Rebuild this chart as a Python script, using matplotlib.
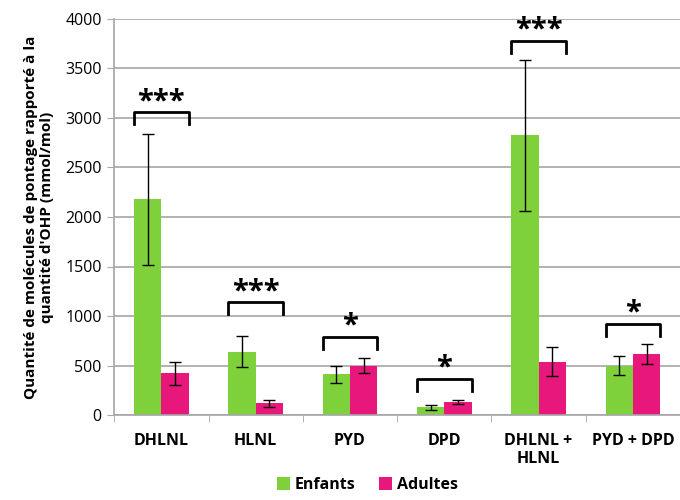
import numpy as np
import matplotlib
matplotlib.use("Agg")
import matplotlib.pyplot as plt

plt.rcParams['font.family'] = ['Open Sans', 'DejaVu Sans']

categories = ['DHLNL', 'HLNL', 'PYD', 'DPD', 'DHLNL +\nHLNL', 'PYD + DPD']
enfants = [2180, 640, 410, 80, 2825, 500]
enfants_err = [660, 155, 85, 25, 760, 95]
adultes = [420, 120, 500, 130, 540, 620]
adultes_err = [115, 35, 80, 20, 145, 100]
signif = ['***', '***', '*', '*', '***', '*']
bracket_top = [3060, 1140, 790, 365, 3780, 920]

green = '#7ED13B'
pink = '#E8177C'

fig = plt.figure(figsize=(6.8, 5.0), dpi=100)
ax = fig.add_axes([0.168, 0.17, 0.832, 0.792])

x = np.arange(len(categories))
w = 0.29
ax.bar(x - w/2, enfants, w, color=green, label='Enfants', zorder=2)
ax.bar(x + w/2, adultes, w, color=pink, label='Adultes', zorder=2)
ax.errorbar(x - w/2, enfants, yerr=enfants_err, fmt='none', ecolor='black',
            elinewidth=1, capsize=4, capthick=1, zorder=3)
ax.errorbar(x + w/2, adultes, yerr=adultes_err, fmt='none', ecolor='black',
            elinewidth=1, capsize=4, capthick=1, zorder=3)

# brackets de significativite
for i in range(len(categories)):
    top = bracket_top[i]
    ax.plot([x[i] - w, x[i] - w, x[i] + w, x[i] + w],
            [top - 120, top, top, top - 120], color='black', lw=2,
            solid_joinstyle='round', zorder=4)
    ax.text(x[i], top - 40, signif[i], ha='center', va='bottom',
            fontsize=21, fontweight='bold', zorder=4)

ax.set_xlim(-0.5, len(categories) - 0.5)
ax.set_ylim(0, 4000)
ax.set_yticks(np.arange(0, 4001, 500))
ax.yaxis.grid(True, color='#a6a6a6', lw=1.2, zorder=0)
ax.set_axisbelow(True)

ax.set_xticks(x)
ax.set_xticklabels(categories, fontsize=11.5, fontweight='bold')
ax.set_xticks(np.arange(-0.5, len(categories), 1), minor=True)
ax.tick_params(axis='x', which='major', length=0, pad=13)
ax.tick_params(axis='x', which='minor', length=5, color='#a6a6a6', direction='out')
ax.tick_params(axis='y', length=5, color='#a6a6a6', labelsize=11.5, pad=4)

for s in ['top', 'right']:
    ax.spines[s].set_visible(False)
ax.spines['left'].set_color('#a6a6a6')
ax.spines['bottom'].set_color('#a6a6a6')
ax.spines['left'].set_linewidth(1.2)
ax.spines['bottom'].set_linewidth(1.2)

ax.set_ylabel("Quantité de molécules de pontage rapporté à la\nquantité d'OHP (mmol/mol)",
              fontsize=11, fontweight='bold', labelpad=8)

fig.legend(loc='lower center', ncol=2, frameon=False,
           prop={'weight': 'bold', 'size': 11.5}, handlelength=0.8, handleheight=0.8,
           handletextpad=0.3, columnspacing=1.5, bbox_to_anchor=(0.54, -0.015))

fig.savefig('out.png', dpi=100)
